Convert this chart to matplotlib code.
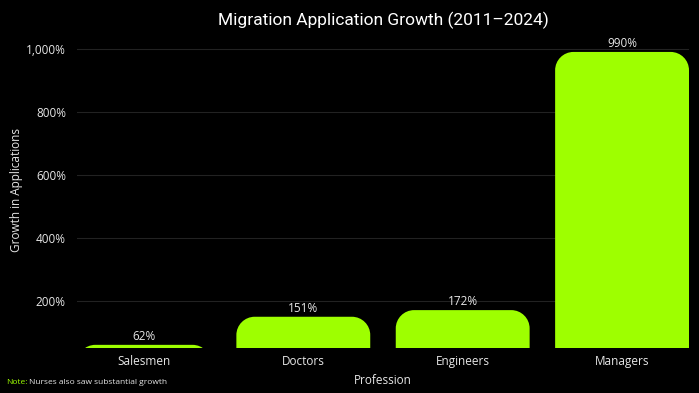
import numpy as np
import matplotlib.pyplot as plt
from matplotlib.path import Path
from matplotlib.patches import PathPatch
from matplotlib.ticker import FuncFormatter

professions = ["Salesmen", "Doctors", "Engineers", "Managers"]
growth = [62, 151, 172, 990]
yticks = [200, 400, 600, 800, 1000]

lime = "#9eff00"
txt = "#e6e6e6"
plt.rcParams['font.family'] = ['Open Sans', 'DejaVu Sans']

fig = plt.figure(figsize=(6.99, 3.93), dpi=100, facecolor="black")
ax = fig.add_axes([77 / 699, 1 - 348 / 393, 612 / 699, (348 - 33) / 393])
ax.set_facecolor("black")

x = np.arange(len(professions))
w = 0.84
bars = ax.bar(x, growth, width=w, color=lime)

# swap plain bars for ones with rounded top corners
rx, ry = 0.115, 58
k = 0.5523
for b in bars:
    x0, x1 = b.get_x(), b.get_x() + b.get_width()
    h = b.get_height()
    b.remove()
    verts = [(x0, 0), (x0, h - ry),
             (x0, h - ry + k * ry), (x0 + rx - k * rx, h), (x0 + rx, h),
             (x1 - rx, h),
             (x1 - rx + k * rx, h), (x1, h - ry + k * ry), (x1, h - ry),
             (x1, 0), (x0, 0)]
    codes = [Path.MOVETO, Path.LINETO,
             Path.CURVE4, Path.CURVE4, Path.CURVE4,
             Path.LINETO,
             Path.CURVE4, Path.CURVE4, Path.CURVE4,
             Path.LINETO, Path.CLOSEPOLY]
    ax.add_patch(PathPatch(Path(verts, codes), facecolor=lime, edgecolor="none", zorder=2))
    ax.text(b.get_x() + b.get_width() / 2, h + 6, f"{h:.0f}%", ha="center", va="bottom",
            color=txt, fontsize=8.5, zorder=3)

ax.set_xlim(-w / 2, len(professions) - 1 + w / 2)
ax.set_ylim(52, 1050)
ax.set_yticks(yticks)
ax.yaxis.set_major_formatter(FuncFormatter(lambda v, p: f"{v:,.0f}%"))
ax.set_xticks(x)
ax.set_xticklabels(professions)
ax.tick_params(axis="both", length=0, colors=txt, labelsize=8.5)
ax.tick_params(axis="y", pad=8)
ax.tick_params(axis="x", pad=5)
ax.grid(axis="y", color="#222222", linewidth=0.8, zorder=0)
ax.set_axisbelow(True)
for s in ax.spines.values():
    s.set_visible(False)

ax.set_ylabel("Growth in Applications", color=txt, fontsize=8.5)
ax.yaxis.set_label_coords(-54 / 612, 0.5)
ax.set_xlabel("Profession", color=txt, fontsize=8.5)
ax.xaxis.set_label_coords(0.5, -26 / 315)
fig.text(383 / 699, 1 - 20 / 393, "Migration Application Growth (2011\u20132024)", ha="center", va="center",
         color="white", fontsize=12.5, family=["Roboto", "DejaVu Sans"])
fig.text(6 / 699, 1 - 382 / 393, "Note:", color=lime, fontsize=6, va="center")
fig.text(29 / 699, 1 - 382 / 393, "Nurses also saw substantial growth", color=txt, fontsize=6, va="center")

fig.savefig("out.png", dpi=100, facecolor="black")
